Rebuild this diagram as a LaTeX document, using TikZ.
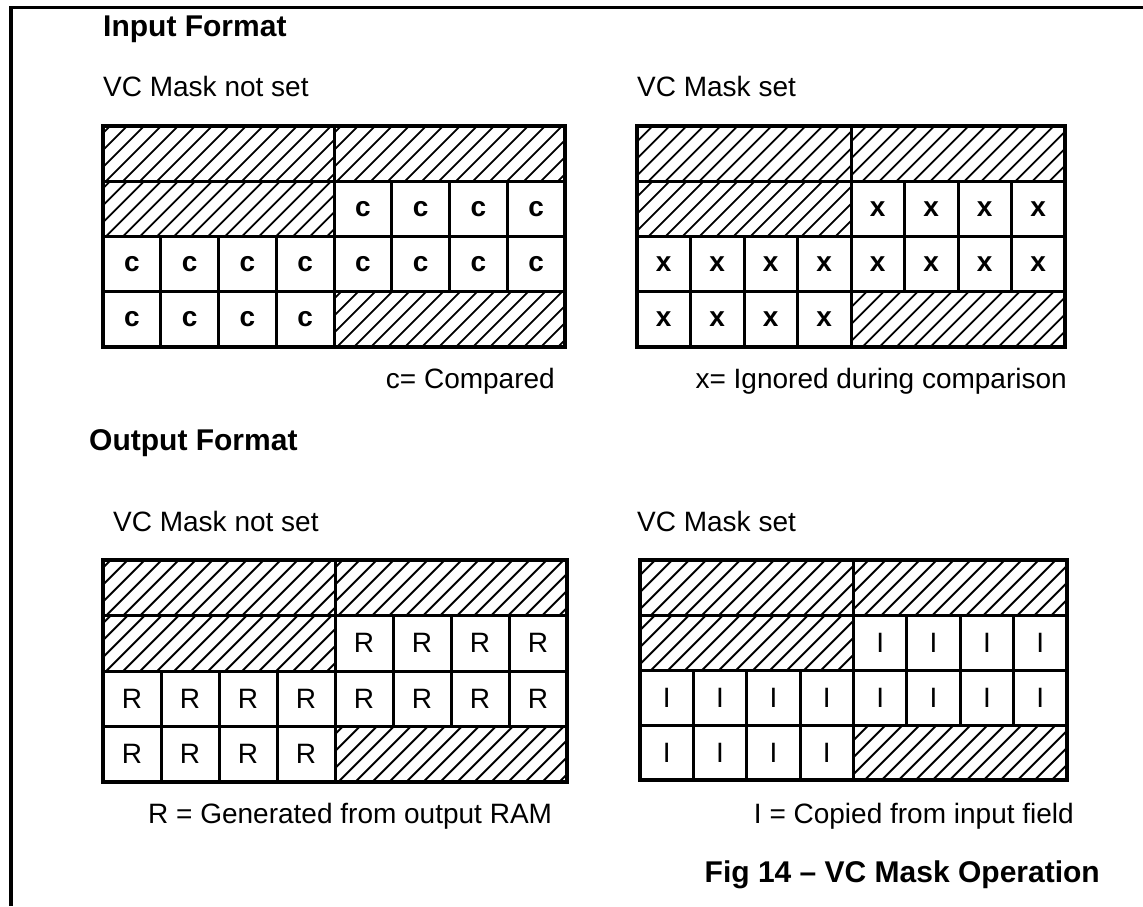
\documentclass[tikz,border=0pt]{standalone}
\usepackage{fontspec}
\setmainfont{Liberation Sans}
\newcommand\lblfont{\fontsize{28}{33}\selectfont}
\newcommand\hdfont{\fontsize{30}{35}\selectfont\bfseries}
\newcommand\cellfont{\fontsize{28}{32}\selectfont}
\newcommand\vcgrid[6]{%
  \pgfmathsetmacro\cw{#4/8}%
  \pgfmathsetmacro\rh{#5/4}%
  \foreach \hc/\hr in {0/0,4/0,0/1,4/3}{
    \begin{scope}
      \clip (#2+\hc*\cw,#3+\hr*\rh) rectangle ++(4*\cw,\rh);
      \foreach \k in {-15,...,15}
        \draw[hatchline] (#2+\hc*\cw+2*\cw+\k*17-\rh/2,#3+\hr*\rh+\rh) -- ++(\rh,-\rh);
    \end{scope}
    \draw[cellline] (#2+\hc*\cw,#3+\hr*\rh) rectangle ++(4*\cw,\rh);
  }
  \foreach \c/\r in {4/1,5/1,6/1,7/1,0/2,1/2,2/2,3/2,4/2,5/2,6/2,7/2,0/3,1/3,2/3,3/3}{
    \node[lettercell, minimum width=\cw pt, minimum height=\rh pt] (#1-\r-\c)
      at (#2+\c*\cw+\cw/2,#3+\r*\rh+\rh/2) {#6};
  }
  \draw[outerline] (#2,#3) rectangle ++(#4,#5);
}
\begin{document}
\begin{tikzpicture}[x=1pt,y=-1pt,
  frameline/.style={line width=3.5pt},
  cellline/.style={line width=3pt},
  outerline/.style={line width=4pt},
  hatchline/.style={line width=1.9pt},
  lettercell/.style={draw, line width=3pt, inner sep=0pt, font=\cellfont},
  txt/.style={inner sep=0pt, font=\lblfont},
  hdtxt/.style={inner sep=0pt, font=\hdfont}]
\useasboundingbox (0,0) rectangle (1143,906);
% frame (top and left edges only)
\coordinate (ftr) at (1143,7.5);
\coordinate (ftl) at (11,7.5);
\coordinate (fbl) at (11,906);
\draw[frameline] (ftr) -- (ftl) -- (fbl);
% input format
\node[hdtxt, anchor=base west] (inhead) at (103,36) {Input Format};
\node[txt, anchor=base west] (innm) at (103,96) {VC Mask not set};
\node[txt, anchor=base west] (inm) at (637,96) {VC Mask set};
\vcgrid{gA}{103}{126}{462}{221}{\bfseries c}
\vcgrid{gB}{637}{126}{428}{221}{\bfseries x}
\node[txt, anchor=base east] (legc) at (555,388) {c= Compared};
\node[txt, anchor=base east] (legx) at (1067,388) {x= Ignored during comparison};
% output format
\node[hdtxt, anchor=base west] (outhead) at (89,450) {Output Format};
\node[txt, anchor=base west] (outnm) at (113,531) {VC Mask not set};
\node[txt, anchor=base west] (outm) at (637,531) {VC Mask set};
\vcgrid{gC}{103}{560}{464}{222}{R}
\vcgrid{gD}{640}{560}{427}{220}{I}
\node[txt, anchor=base west] (legr) at (148,823) {R = Generated from output RAM};
\node[txt, anchor=base east] (legi) at (1074,823) {I = Copied from input field};
\node[hdtxt, anchor=base east] (fig) at (1100,882) {Fig 14 – VC Mask Operation};
\end{tikzpicture}
\end{document}
